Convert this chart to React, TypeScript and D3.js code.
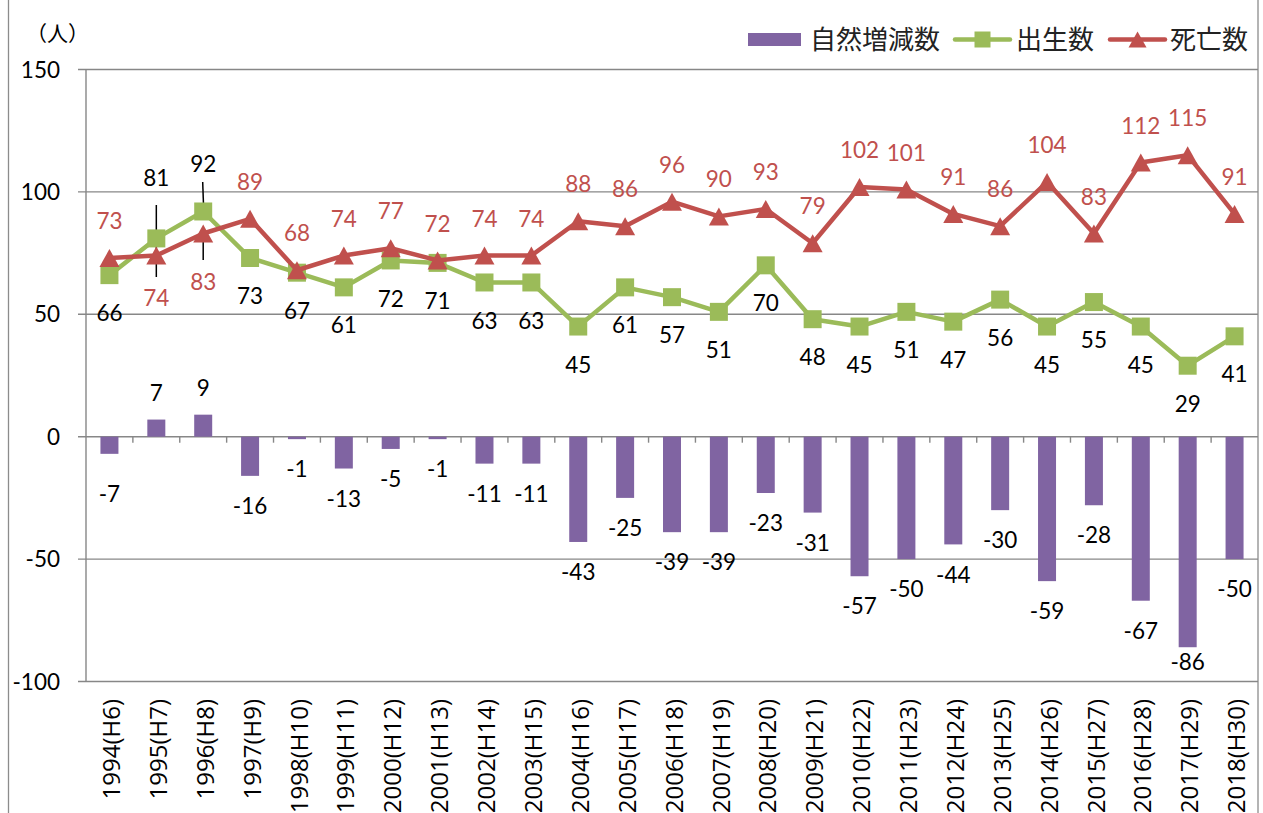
import React from "react";
import * as d3 from "d3";

const years = [
  "1994(H6)", "1995(H7)", "1996(H8)", "1997(H9)", "1998(H10)", "1999(H11)", "2000(H12)",
  "2001(H13)", "2002(H14)", "2003(H15)", "2004(H16)", "2005(H17)", "2006(H18)", "2007(H19)",
  "2008(H20)", "2009(H21)", "2010(H22)", "2011(H23)", "2012(H24)", "2013(H25)", "2014(H26)",
  "2015(H27)", "2016(H28)", "2017(H29)", "2018(H30)",
];
const naturalChange = [-7, 7, 9, -16, -1, -13, -5, -1, -11, -11, -43, -25, -39, -39, -23, -31, -57, -50, -44, -30, -59, -28, -67, -86, -50];
const births = [66, 81, 92, 73, 67, 61, 72, 71, 63, 63, 45, 61, 57, 51, 70, 48, 45, 51, 47, 56, 45, 55, 45, 29, 41];
const deaths = [73, 74, 83, 89, 68, 74, 77, 72, 74, 74, 88, 86, 96, 90, 93, 79, 102, 101, 91, 86, 104, 83, 112, 115, 91];
const yTicks = [150, 100, 50, 0, -50, -100];

const legendNames = ["自然増減数", "出生数", "死亡数"];
const unitLabel = "（人）";

const PURPLE = "#8064A2";
const GREEN = "#9BBB59";
const RED = "#C0504D";
const GRID = "#878787";
const NUM_FONT = "Lato, 'Open Sans', sans-serif";
const JP_FONT = "'Noto Sans CJK JP', sans-serif";

// label offsets (px from the point to the label centre); a few are moved by hand
const birthDy: Record<number, number> = { 1: -61, 2: -48 };
const deathDy: Record<number, number> = { 1: 42, 2: 48 };
const barDy: Record<number, number> = { 0: 40, 23: 15 };

const left = 86;
const right = 1258;
const top = 69.5;
const bottom = 681.5;

const x = d3.scaleBand<string>().domain(years).range([left, right]).paddingInner(0).paddingOuter(0);
const y = d3.scaleLinear().domain([-100, 150]).range([bottom, top]);
const cx = (i: number) => (x(years[i]) as number) + x.bandwidth() / 2;

const line = d3
  .line<number>()
  .x((_, i) => cx(i))
  .y((d) => y(d));

const square = (px: number, py: number, s: number) =>
  `M${px - s / 2},${py - s / 2}h${s}v${s}h${-s}Z`;
const triangle = (px: number, py: number, w: number, h: number) =>
  `M${px},${py - h / 2}L${px + w / 2},${py + h / 2}L${px - w / 2},${py + h / 2}Z`;

const App = () => {
  const barW = 18;
  const y0 = y(0);

  return (
    <svg
      width={1263}
      height={813}
      style={{ position: "absolute", left: 0, top: 0, background: "#fff" }}
    >
      {/* chart frame */}
      <rect x={8.5} y={-5} width={1249.5} height={830} fill="none" stroke="#8c8c8c" strokeWidth={1.3} />

      {/* grid + y axis */}
      {yTicks.map((t) => (
        <g key={t}>
          <line x1={78} x2={right} y1={y(t)} y2={y(t)} stroke={GRID} strokeWidth={1.4} />
          <text
            x={60}
            y={y(t)}
            dy="0.36em"
            textAnchor="end"
            fontFamily={NUM_FONT}
            fontSize={22.5}
            fill="#000"
          >
            {t}
          </text>
        </g>
      ))}
      <line x1={left} x2={left} y1={top} y2={bottom} stroke={GRID} strokeWidth={1.4} />
      {years.map((yr, i) =>
        i === 0 ? null : (
          <line key={yr} x1={x(yr)} x2={x(yr)} y1={y0} y2={y0 + 6} stroke={GRID} strokeWidth={1.4} />
        )
      )}
      <text x={26} y={33} dy="0.36em" fontFamily={JP_FONT} fontSize={21} fill="#000">
        {unitLabel}
      </text>

      {/* bars */}
      {naturalChange.map((v, i) => (
        <rect
          key={i}
          x={cx(i) - barW / 2}
          y={Math.min(y(v), y0)}
          width={barW}
          height={Math.abs(y(v) - y0)}
          fill={PURPLE}
        />
      ))}
      {naturalChange.map((v, i) => (
        <text
          key={i}
          x={cx(i)}
          y={y(v) + (barDy[i] ?? (v >= 0 ? -27 : 30))}
          dy="0.36em"
          textAnchor="middle"
          fontFamily={NUM_FONT}
          fontSize={22.5}
          fill="#000"
        >
          {v}
        </text>
      ))}

      {/* leader lines for moved labels */}
      <line x1={cx(1)} x2={cx(1)} y1={205} y2={277} stroke="#000" strokeWidth={1.5} />
      <line x1={cx(2) - 0.5} x2={cx(2) + 0.5} y1={182} y2={211} stroke="#000" strokeWidth={1.5} />
      <line x1={cx(2)} x2={cx(2)} y1={234} y2={260} stroke="#000" strokeWidth={1.5} />

      {/* births line */}
      <path d={line(births) as string} fill="none" stroke={GREEN} strokeWidth={4.5} strokeLinejoin="round" />
      {births.map((v, i) => (
        <path key={i} d={square(cx(i), y(v), 18)} fill={GREEN} />
      ))}

      {/* deaths line */}
      <path d={line(deaths) as string} fill="none" stroke={RED} strokeWidth={4.5} strokeLinejoin="round" />
      {deaths.map((v, i) => (
        <path key={i} d={triangle(cx(i), y(v), 20, 18)} fill={RED} />
      ))}

      {births.map((v, i) => (
        <text
          key={i}
          x={cx(i)}
          y={y(v) + (birthDy[i] ?? 38)}
          dy="0.36em"
          textAnchor="middle"
          fontFamily={NUM_FONT}
          fontSize={22.5}
          fill="#000"
        >
          {v}
        </text>
      ))}
      {deaths.map((v, i) => (
        <text
          key={i}
          x={cx(i)}
          y={y(v) + (deathDy[i] ?? -37)}
          dy="0.36em"
          textAnchor="middle"
          fontFamily={NUM_FONT}
          fontSize={22.5}
          fill={RED}
        >
          {v}
        </text>
      ))}

      {/* x axis labels */}
      {years.map((yr, i) => (
        <text
          key={yr}
          transform={`translate(${cx(i) + 2},699) rotate(-90)`}
          dy="0.36em"
          textAnchor="end"
          fontFamily="'Open Sans', sans-serif"
          fontSize={24}
          fill="#000"
        >
          {yr}
        </text>
      ))}

      {/* legend */}
      <g fontFamily={JP_FONT} fontSize={26} fill="#222">
        <rect x={748} y={33} width={53} height={13} fill={PURPLE} />
        <text x={810} y={39.5} dy="0.36em">{legendNames[0]}</text>

        <line x1={955} x2={1010} y1={39.5} y2={39.5} stroke={GREEN} strokeWidth={4.5} strokeLinecap="round" />
        <path d={square(982.5, 39.5, 16)} fill={GREEN} />
        <text x={1016} y={39.5} dy="0.36em">{legendNames[1]}</text>

        <line x1={1110} x2={1165} y1={39.5} y2={39.5} stroke={RED} strokeWidth={4.5} strokeLinecap="round" />
        <path d={triangle(1137.5, 39.5, 18, 16)} fill={RED} />
        <text x={1170} y={39.5} dy="0.36em">{legendNames[2]}</text>
      </g>
    </svg>
  );
};

export default App;
